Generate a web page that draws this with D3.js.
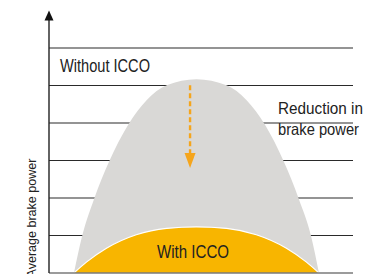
<!DOCTYPE html>
<html><head><meta charset="utf-8">
<script src="https://cdn.jsdelivr.net/npm/d3@7"></script>
<style>html,body{margin:0;padding:0;background:#fff;overflow:hidden}</style>
</head><body>
<svg id="chart" width="367" height="274"></svg>
<script>
// ---- data ----
const gridValues = [1, 2, 3, 4, 5, 6];
const withoutX = [8.2, 10.9, 14.8, 19.7, 26.0, 32.1, 38.7, 48.5, 58.4, 65.0, 71.1, 77.3, 82.2, 86.2, 88.8];
const withoutY = [0, 0.99, 1.97, 2.96, 3.95, 4.61, 5.01, 5.17, 5.01, 4.61, 3.95, 2.96, 1.97, 0.99, 0];
const withX = [8.2, 12.3, 18.9, 28.7, 38.7, 48.5, 58.4, 68.2, 78.1, 84.7, 88.8];
const withY = [0, 0.29, 0.66, 1.02, 1.19, 1.23, 1.19, 1.02, 0.66, 0.29, 0];
const reductionArrow = {x: 46.4, from: 5.01, to: 2.8};
const labels = {without: "Without ICCO", with: "With ICCO", reduction: ["Reduction in", "brake power"], yAxis: "Average brake power"};

// ---- scales ----
const svg = d3.select("#chart");
const x = d3.scaleLinear().domain([0, 100]).range([49, 353]);
const y = d3.scaleLinear().domain([0, 7]).range([273, 10.5]);
const font = "'Liberation Sans Narrow','Arial Narrow','Liberation Sans',sans-serif";

// gridlines
svg.append("g").selectAll("line").data(gridValues).join("line")
  .attr("x1", x(0)).attr("x2", x(100))
  .attr("y1", d => y(d)).attr("y2", d => y(d))
  .attr("stroke", "#2a2a2a").attr("stroke-width", 1.1);

const area = d3.area().x(d => x(d[0])).y0(y(0)).y1(d => y(d[1])).curve(d3.curveMonotoneX);
const line = d3.line().x(d => x(d[0])).y(d => y(d[1])).curve(d3.curveMonotoneX);

const grayPts = withoutX.map((v, i) => [v, withoutY[i]]);
const yelPts = withX.map((v, i) => [v, withY[i]]);

svg.append("path").datum(grayPts).attr("d", area).attr("fill", "#d9d8d6");
svg.append("path").datum(yelPts).attr("d", area).attr("fill", "#f8b500");
svg.append("path").datum(yelPts).attr("d", line).attr("fill", "none").attr("stroke", "#fff").attr("stroke-width", 1.2);

// bottom axis
svg.append("line").attr("x1", x(0)).attr("x2", x(100)).attr("y1", y(0)).attr("y2", y(0))
  .attr("stroke", "#7a7a7a").attr("stroke-width", 1.5);

// y axis with arrow
svg.append("line").attr("x1", x(0)).attr("x2", x(0)).attr("y1", y(0)).attr("y2", y(7) + 6)
  .attr("stroke", "#222").attr("stroke-width", 1.4);
svg.append("path")
  .attr("d", `M${x(0)},${y(7)} L${x(0) - 4.5},${y(7) + 10} L${x(0) + 4.5},${y(7) + 10} Z`)
  .attr("fill", "#111");

// dashed reduction arrow
const ax = x(reductionArrow.x);
svg.append("line").attr("x1", ax).attr("x2", ax)
  .attr("y1", y(reductionArrow.from)).attr("y2", y(reductionArrow.to) - 12)
  .attr("stroke", "#f5a51c").attr("stroke-width", 2.4).attr("stroke-dasharray", "5,3");
svg.append("path")
  .attr("d", `M${ax},${y(reductionArrow.to)} L${ax - 5.5},${y(reductionArrow.to) - 15} L${ax + 5.5},${y(reductionArrow.to) - 15} Z`)
  .attr("fill", "#f5a51c");

// texts
function txt(s, tx, ty, size, len) {
  return svg.append("text").attr("x", tx).attr("y", ty).text(s)
    .attr("font-family", font).attr("font-size", size).attr("fill", "#222")
    .attr("textLength", len).attr("lengthAdjust", "spacingAndGlyphs");
}
txt(labels.without, 60, 72, 17.5, 90);
txt(labels.with, 157, 258, 17.5, 72);
txt(labels.reduction[0], 278, 114, 16.5, 85);
txt(labels.reduction[1], 278, 135, 16.5, 81);
svg.append("text").attr("transform", "translate(36,218) rotate(-90)")
  .attr("text-anchor", "middle").text(labels.yAxis)
  .attr("font-family", font).attr("font-size", 13.5).attr("fill", "#222")
  .attr("textLength", 119).attr("lengthAdjust", "spacingAndGlyphs");
</script>
</body></html>
